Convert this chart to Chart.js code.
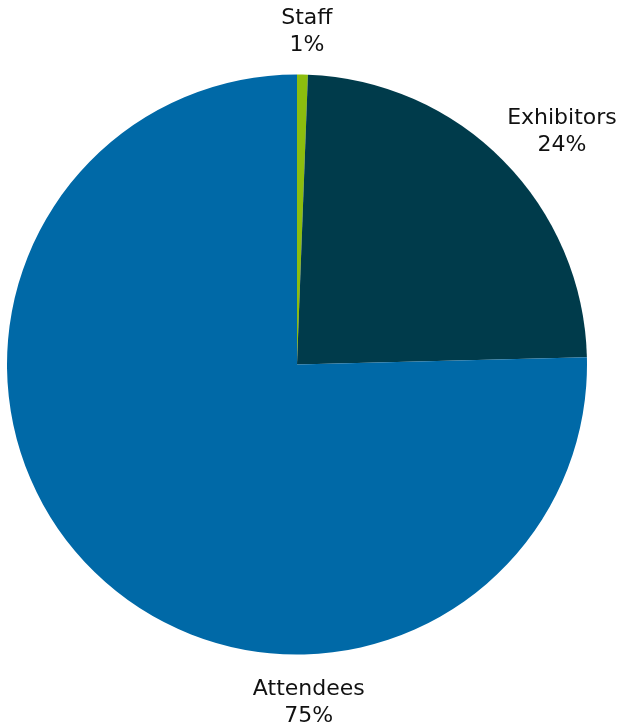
<!DOCTYPE html>
<html>
<head>
<meta charset="utf-8">
<script src="https://cdn.jsdelivr.net/npm/chart.js@4"></script>
<style>
  html, body { margin: 0; padding: 0; background: #fff; }
  #wrap { width: 621px; height: 725px; }
</style>
</head>
<body>
<div id="wrap"><canvas id="pie"></canvas></div>
<script>
const categories = ['Staff', 'Exhibitors', 'Attendees']
const shares = [0.6, 24.0, 75.4]
const shownPct = ['1%', '24%', '75%']
const colors = ['#8cbd0e', '#003b4b', '#0069a7']

// where each label sits: angle from top (deg) and distance as a multiple of the radius
const labelSpots = [[1.7, 1.15], [48.6, 1.218], [178, 1.165]]

const outsideLabels = {
  id: 'outsideLabels',
  afterDraw(chart) {
    const ctx = chart.ctx
    const arc = chart.getDatasetMeta(0).data[0]
    const cx = arc.x, cy = arc.y, r = arc.outerRadius
    ctx.save()
    ctx.fillStyle = '#111'
    ctx.font = '22px "DejaVu Sans"'
    ctx.textAlign = 'center'
    ctx.textBaseline = 'middle'
    categories.forEach((name, i) => {
      const a = labelSpots[i][0] * Math.PI / 180
      const d = labelSpots[i][1] * r
      const x = cx + Math.sin(a) * d
      const y = cy - Math.cos(a) * d
      ctx.fillText(name, x, y - 13)
      ctx.fillText(shownPct[i], x, y + 14)
    })
    ctx.restore()
  }
}

new Chart(document.getElementById('pie'), {
  type: 'pie',
  data: {
    labels: categories,
    datasets: [{
      data: shares,
      backgroundColor: colors,
      borderWidth: 0
    }]
  },
  options: {
    responsive: true,
    maintainAspectRatio: false,
    animation: false,
    layout: { padding: { left: 7, right: 34, top: 74, bottom: 70 } },
    plugins: {
      legend: { display: false },
      tooltip: { enabled: false }
    }
  },
  plugins: [outsideLabels]
})
</script>
</body>
</html>
